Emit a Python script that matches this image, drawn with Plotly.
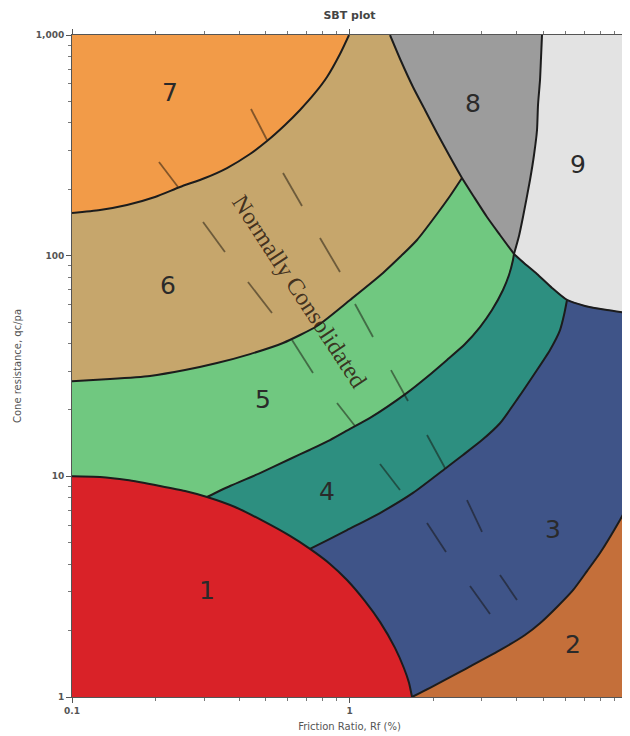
import math
import plotly.graph_objects as go

# ---------------- Zone boundary curves (Rf %, qc/pa) -------------
b67_rf = [0.1, 0.1262, 0.1578, 0.1991, 0.2450, 0.3015, 0.3619, 0.4380, 0.5043, 0.5856,
          0.6633, 0.7513, 0.8297, 0.9242, 0.996]
b67_qc = [156.1, 161.1, 169.7, 184.5, 204.8, 224.9, 249.6, 288.9, 330.8, 391.0,
          457.3, 546.0, 645.1, 820.3, 1000]

b56_rf = [0.1, 0.1371, 0.1910, 0.2554, 0.3331, 0.4380, 0.5760, 0.7638, 1.0042, 1.3204,
          1.7508, 2.0668, 2.3026, 2.5433]
b56_qc = [27.0, 27.6, 28.5, 30.3, 32.6, 35.8, 40.2, 48.0, 62.97, 83.46,
          117.8, 154.5, 186.4, 224.9]

b8u_rf = [1.3995, 1.5331, 1.6937, 1.8710, 2.0668, 2.2835, 2.5433]
b8u_qc = [1000, 762.4, 581.3, 457.3, 359.7, 285.9, 224.9]
b8l_rf = [2.5433, 2.8094, 3.1295, 3.4854, 3.9150]
b8l_qc = [224.9, 184.5, 149.7, 124.1, 101.8]

b89_rf = [4.9402, 4.8994, 4.8589, 4.7786, 4.7393, 4.6225, 4.4715, 4.2184, 4.0808, 3.9150]
b89_qc = [1000, 786.7, 625.4, 481.7, 371.1, 285.9, 220.3, 149.7, 122.8, 101.8]

b94_rf = [3.9150, 4.2536, 4.7393, 5.3685, 6.0786]
b94_qc = [101.8, 92.6, 82.6, 71.4, 62.97]
b93_rf = [6.0786, 7.0589, 8.4730, 10]
b93_qc = [62.97, 59.2, 56.7, 55.0]

b54_rf = [0.3066, 0.3710, 0.4759, 0.6104, 0.7205, 0.8505, 1.0042, 1.1855, 1.6113, 1.9024,
          2.2459, 2.6075, 2.9532, 3.2620, 3.5735, 3.7558, 3.8827, 3.9150]
b54_qc = [8.06, 9.04, 10.35, 11.98, 13.2, 14.6, 16.4, 18.4, 23.9, 28.2,
          33.7, 39.8, 47.5, 56.7, 69.9, 81.7, 95.6, 101.8]

b43_rf = [0.7205, 0.8367, 0.9795, 1.2880, 1.6937, 2.2459, 2.5645, 3.0026, 3.4854, 4.0471,
          4.6612, 5.2800, 5.7366, 5.9293, 6.0786]
b43_qc = [4.69, 5.15, 5.71, 6.82, 8.41, 11.0, 12.5, 14.6, 17.4, 22.6,
          29.4, 37.4, 46.0, 53.8, 62.97]

a15_rf = [0.1, 0.1262, 0.1578, 0.2075, 0.2554, 0.3066]
a15_qc = [10.0, 9.93, 9.62, 9.04, 8.58, 8.06]
a14_rf = [0.3066, 0.3867, 0.4879, 0.6104, 0.7205]
a14_qc = [8.06, 7.26, 6.28, 5.37, 4.69]
a13_rf = [0.7205, 0.8505, 0.9795, 1.1373, 1.2880, 1.4587, 1.5717, 1.6383, 1.6797]
a13_qc = [4.69, 4.01, 3.39, 2.72, 2.19, 1.67, 1.35, 1.16, 1.0]

b23_rf = [1.6797, 1.9505, 2.5014, 3.4854, 4.2890, 4.8589, 5.5953, 6.3887, 7.1768, 7.9928, 9.4356, 10]
b23_qc = [1.0, 1.10, 1.30, 1.63, 1.91, 2.16, 2.56, 3.05, 3.72, 4.49, 6.34, 7.26]

# faint hatch strokes printed across the zones: (Rf start, qc start, Rf end, qc end)
hatch_strokes = [
    (0.4416, 462.1, 0.5043, 334.3), (0.2058, 265.8, 0.2410, 204.8),
    (0.5760, 237.0, 0.6743, 168.0), (0.2966, 142.1, 0.3558, 103.9),
    (0.7828, 120.2, 0.9242, 84.3), (0.4307, 75.97, 0.5256, 55.0),
    (1.0467, 60.39, 1.2152, 42.80), (0.6206, 41.48, 0.7387, 29.4),
    (0.9015, 21.49, 1.0467, 16.91), (1.4111, 30.3, 1.6247, 21.95),
    (1.9024, 15.39, 2.2088, 10.91), (1.2880, 11.37, 1.5204, 8.67),
    (2.6509, 7.81, 3.0026, 5.595), (1.9024, 6.146, 2.2272, 4.541),
    (3.4854, 3.572, 4.0137, 2.752), (2.7177, 3.184, 3.2094, 2.377),
]

# ---------------- Zone labels ---------------------------------------------------------
zone_names = ["1", "2", "3", "4", "5", "6", "7", "8", "9"]
zone_rf = [0.3066, 6.389, 5.411, 0.8297, 0.4879, 0.2218, 0.2255, 2.786, 6.660]
zone_qc = [2.96, 1.685, 5.596, 8.32, 21.7, 71.4, 534.7, 476.8, 252.2]

zone_colors = {
    "1": "#d92228", "2": "#c46f3a", "3": "#3f5488", "4": "#2d8f80",
    "5": "#70c880", "6": "#c6a66c", "7": "#f29b48", "8": "#9c9c9c", "9": "#e3e3e3",
}

nc_label = "Normally Consolidated"
nc_rf, nc_qc = 0.663, 68.5

x_ticks = [0.1, 1, 10]
x_ticktext = ["0.1", "1", "10"]
y_ticks = [1, 10, 100, 1000]
y_ticktext = ["1", "10", "100", "1,000"]

# ---------------- Zone polygons built from the boundaries ----------------------------
R = lambda a: a[::-1]
zones = {
    "7": ([0.1] + b67_rf, [1000] + b67_qc),
    "6": (b67_rf + b8u_rf + R(b56_rf), b67_qc + b8u_qc + R(b56_qc)),
    "5": (b56_rf + b8l_rf + R(b54_rf) + R(a15_rf), b56_qc + b8l_qc + R(b54_qc) + R(a15_qc)),
    "8": (b8u_rf + b8l_rf + R(b89_rf), b8u_qc + b8l_qc + R(b89_qc)),
    "9": (b89_rf + b94_rf + b93_rf + [10], b89_qc + b94_qc + b93_qc + [1000]),
    "4": (a14_rf + b43_rf + R(b94_rf) + R(b54_rf), a14_qc + b43_qc + R(b94_qc) + R(b54_qc)),
    "3": (a13_rf + b23_rf + R(b93_rf) + R(b43_rf), a13_qc + b23_qc + R(b93_qc) + R(b43_qc)),
    "2": (b23_rf + [10], b23_qc + [1]),
    "1": ([0.1] + a15_rf + a14_rf + a13_rf, [1] + a15_qc + a14_qc + a13_qc),
}

fig = go.Figure()
for name, (xs, ys) in zones.items():
    fig.add_trace(go.Scatter(
        x=xs, y=ys, mode="lines", fill="toself", fillcolor=zone_colors[name],
        line=dict(width=0.6, color=zone_colors[name]), hoverinfo="skip", showlegend=False))

# hatch strokes
hx, hy = [], []
for r0, q0, r1, q1 in hatch_strokes:
    hx += [r0, r1, None]
    hy += [q0, q1, None]
fig.add_trace(go.Scatter(x=hx, y=hy, mode="lines", line=dict(color="rgba(20,15,10,0.5)", width=1.8),
                         hoverinfo="skip", showlegend=False))

boundaries = [
    (b67_rf, b67_qc), (b56_rf, b56_qc), (b8u_rf + b8l_rf[1:], b8u_qc + b8l_qc[1:]),
    (b89_rf, b89_qc), (b94_rf + b93_rf[1:], b94_qc + b93_qc[1:]), (b54_rf, b54_qc),
    (b43_rf, b43_qc), (b23_rf, b23_qc),
    (a15_rf + a14_rf[1:] + a13_rf[1:], a15_qc + a14_qc[1:] + a13_qc[1:]),
]
for xs, ys in boundaries:
    fig.add_trace(go.Scatter(
        x=xs, y=ys, mode="lines", line=dict(color="#1c1c1c", width=2, shape="spline", smoothing=0.6),
        hoverinfo="skip", showlegend=False))

fig.add_trace(go.Scatter(
    x=zone_rf, y=zone_qc, mode="text", text=zone_names,
    textfont=dict(family="DejaVu Sans", size=25, color="#2a2a2a"),
    hoverinfo="skip", showlegend=False))

fig.add_annotation(
    x=math.log10(nc_rf), y=math.log10(nc_qc), xref="x", yref="y", text=nc_label,
    textangle=56.8, showarrow=False,
    font=dict(family="Liberation Serif", size=24, color="rgba(50,35,20,0.9)"))

minor_x = [m * d for d in (0.1, 1) for m in range(2, 10)]
minor_y = [m * d for d in (1, 10, 100) for m in range(2, 10)]
tickfont = dict(family="DejaVu Sans", size=9, color="#555555", weight="bold")

# The page body adds an 8 px offset, so the figure is sized to fill the window exactly.
fig.update_layout(
    width=622, height=728,
    margin=dict(l=64, r=3, t=27, b=39, autoexpand=False),
    paper_bgcolor="white", plot_bgcolor="white",
    title=dict(text="SBT plot", x=0.5, xref="paper", y=1 - 7 / 728, yanchor="middle",
               font=dict(family="DejaVu Sans", size=11, color="#444444", weight="bold")),
    xaxis=dict(type="log", range=[-1, 1], tickvals=x_ticks, ticktext=x_ticktext, automargin=False,
               ticks="outside", ticklen=5, tickcolor="#555555", showgrid=False, zeroline=False,
               showline=True, linecolor="#555555", linewidth=1, mirror="allticks",
               tickfont=tickfont,
               minor=dict(tickvals=minor_x, ticks="outside", ticklen=3, tickcolor="#777777", showgrid=False),
               title=dict(text="Friction Ratio, Rf (%)", standoff=8,
                          font=dict(family="DejaVu Sans", size=10, color="#555555"))),
    yaxis=dict(type="log", range=[0, 3], tickvals=y_ticks, ticktext=y_ticktext, automargin=False,
               ticks="outside", ticklen=5, tickcolor="#555555", showgrid=False, zeroline=False,
               showline=True, linecolor="#555555", linewidth=1, mirror="allticks",
               tickfont=tickfont,
               minor=dict(tickvals=minor_y, ticks="outside", ticklen=3, tickcolor="#777777", showgrid=False),
               title=dict(text="Cone resistance, qc/pa", standoff=12,
                          font=dict(family="DejaVu Sans", size=10, color="#555555"))),
)

fig.write_html("out.html")
